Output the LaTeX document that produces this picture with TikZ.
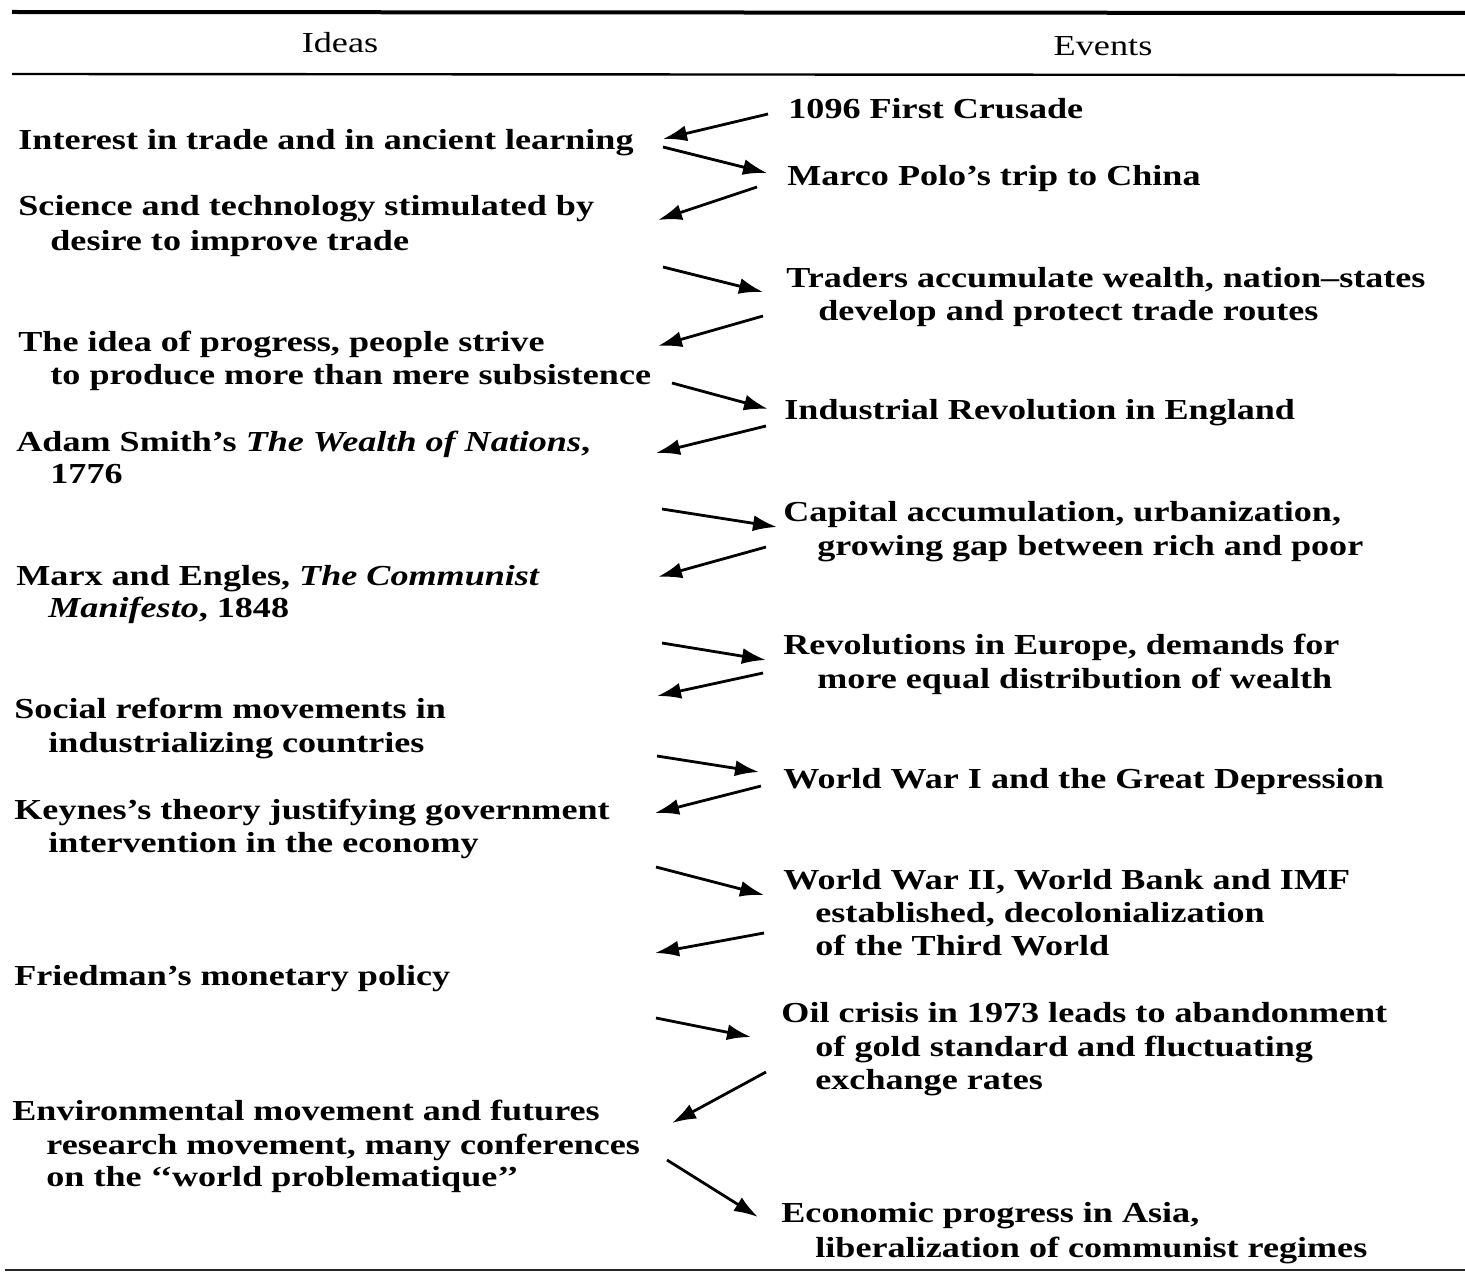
\documentclass[tikz,border=0pt]{standalone}
\usepackage{fontspec}
\setmainfont{Liberation Serif}[FakeStretch=1.245, UprightFont=*-Bold, ItalicFont=*-Bold Italic]
\newfontfamily\hdrfont{Liberation Serif}[FakeStretch=1.25]
\usetikzlibrary{arrows.meta}
\begin{document}
\begin{tikzpicture}[x=0.5pt,y=-0.5pt,
  txt/.style={anchor=base west, inner sep=0pt, font=\fontsize{14.5pt}{17pt}\selectfont},
  hdr/.style={anchor=base, inner sep=0pt, font=\hdrfont\fontsize{14.5pt}{17pt}\selectfont},
  link/.style={line width=1.4pt, -{Latex[length=12pt,width=8pt]}},
  toprule/.style={line width=2pt},
  midrule/.style={line width=1.2pt},
  botrule/.style={line width=1.1pt, black!85}]
\useasboundingbox[fill=white] (0,0) rectangle (1465,1273);
% rules
\draw[toprule] (12,12) -- (1465,13);
\draw[midrule] (12,74) -- (1465,75);
\draw[botrule] (5,1270) -- (1465,1270);
% headers
\node[hdr] (hI) at (340,53) {Ideas};
\node[hdr] (hE) at (1103,56) {Events};
% ideas (left)
\node[txt] (L1)  at (18,150)  {Interest in trade and in ancient learning};
\node[txt] (L2a) at (18,216)  {Science and technology stimulated by};
\node[txt] (L2b) at (50,250)  {desire to improve trade};
\node[txt] (L3a) at (18,351)  {The idea of progress, people strive};
\node[txt] (L3b) at (50,384)  {to produce more than mere subsistence};
\node[txt] (L4a) at (16,451)  {Adam Smith’s \textit{The Wealth of Nations},};
\node[txt] (L4b) at (50,483)  {1776};
\node[txt] (L5a) at (16,585)  {Marx and Engles, \textit{The Communist}};
\node[txt] (L5b) at (48,617)  {\textit{Manifesto}, 1848};
\node[txt] (L6a) at (14,718)  {Social reform movements in};
\node[txt] (L6b) at (48,752)  {industrializing countries};
\node[txt] (L7a) at (14,819)  {Keynes’s theory justifying government};
\node[txt] (L7b) at (48,852)  {intervention in the economy};
\node[txt] (L8)  at (14,985)  {Friedman’s monetary policy};
\node[txt] (L9a) at (12,1120) {Environmental movement and futures};
\node[txt] (L9b) at (46,1154) {research movement, many conferences};
\node[txt] (L9c) at (46,1186) {on the ‘‘world problematique’’};
% events (right)
\node[txt] (R1)   at (788,119)  {1096 First Crusade};
\node[txt] (R2)   at (787,185)  {Marco Polo’s trip to China};
\node[txt] (R3a)  at (786,287)  {Traders accumulate wealth, nation–states};
\node[txt] (R3b)  at (818,320)  {develop and protect trade routes};
\node[txt] (R4)   at (784,419)  {Industrial Revolution in England};
\node[txt] (R5a)  at (783,521)  {Capital accumulation, urbanization,};
\node[txt] (R5b)  at (817,555)  {growing gap between rich and poor};
\node[txt] (R6a)  at (783,654)  {Revolutions in Europe, demands for};
\node[txt] (R6b)  at (817,688)  {more equal distribution of wealth};
\node[txt] (R7)   at (783,788)  {World War I and the Great Depression};
\node[txt] (R8a)  at (783,889)  {World War II, World Bank and IMF};
\node[txt] (R8b)  at (815,922)  {established, decolonialization};
\node[txt] (R8c)  at (815,955)  {of the Third World};
\node[txt] (R9a)  at (781,1022) {Oil crisis in 1973 leads to abandonment};
\node[txt] (R9b)  at (815,1056) {of gold standard and fluctuating};
\node[txt] (R9c)  at (815,1089) {exchange rates};
\node[txt] (R10a) at (781,1222) {Economic progress in Asia,};
\node[txt] (R10b) at (815,1257) {liberalization of communist regimes};
% connector end points
\coordinate (a1s) at (768,114);  \coordinate (a1e) at (663,139);
\coordinate (a2s) at (663,147);  \coordinate (a2e) at (767,173);
\coordinate (a3s) at (757,187);  \coordinate (a3e) at (658,220);
\coordinate (a4s) at (663,267);  \coordinate (a4e) at (763,292);
\coordinate (a5s) at (763,316);  \coordinate (a5e) at (658,346);
\coordinate (a6s) at (672,383);  \coordinate (a6e) at (768,409);
\coordinate (a7s) at (766,426);  \coordinate (a7e) at (656,453);
\coordinate (a8s) at (662,509);  \coordinate (a8e) at (777,527);
\coordinate (a9s) at (766,547);  \coordinate (a9e) at (658,577);
\coordinate (a10s) at (662,643); \coordinate (a10e) at (766,660);
\coordinate (a11s) at (763,673); \coordinate (a11e) at (657,696);
\coordinate (a12s) at (657,756); \coordinate (a12e) at (759,772);
\coordinate (a13s) at (761,786); \coordinate (a13e) at (655,813);
\coordinate (a14s) at (656,867); \coordinate (a14e) at (764,895);
\coordinate (a15s) at (764,933); \coordinate (a15e) at (655,953);
\coordinate (a16s) at (656,1018); \coordinate (a16e) at (751,1037);
\coordinate (a17s) at (766,1072); \coordinate (a17e) at (672,1123);
\coordinate (a18s) at (667,1160); \coordinate (a18e) at (758,1217);
\foreach \i in {1,...,18} { \draw[link] (a\i s) -- (a\i e); }
\end{tikzpicture}
\end{document}
